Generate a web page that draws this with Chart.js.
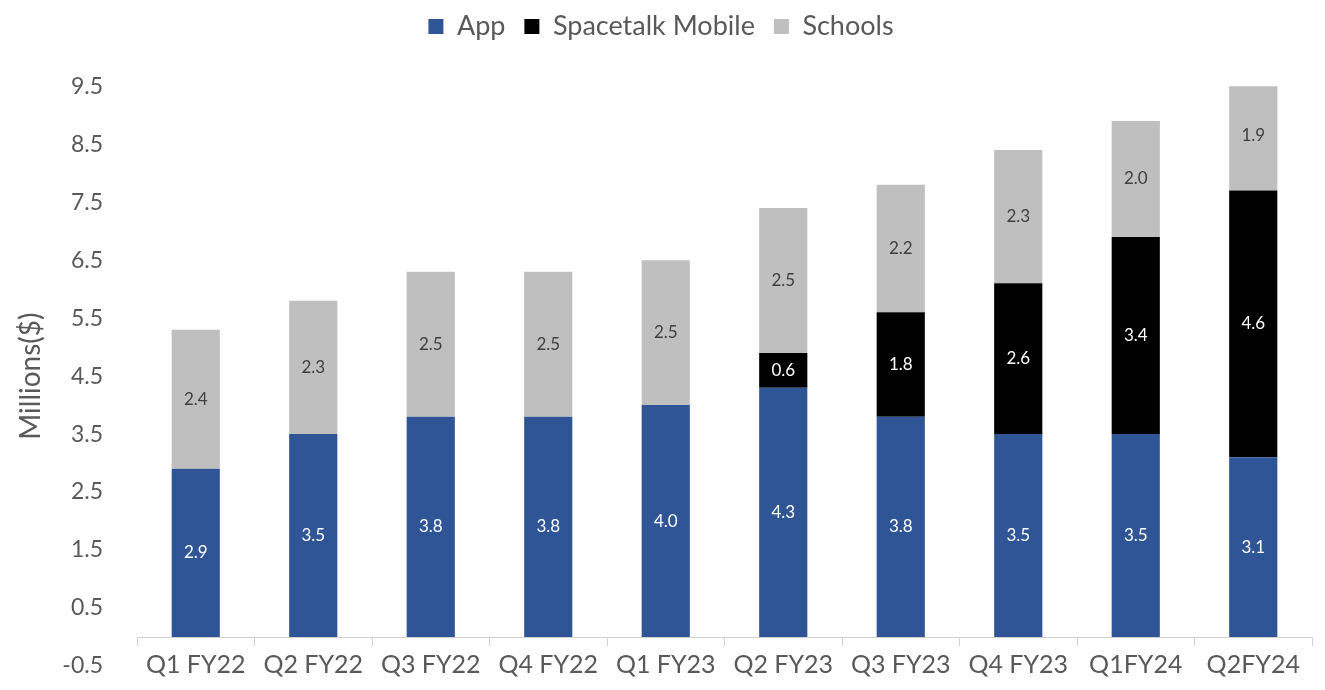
<!DOCTYPE html>
<html>
<head>
<meta charset="utf-8">
<script src="https://cdn.jsdelivr.net/npm/chart.js@4.4.1/dist/chart.umd.min.js"></script>
<style>
    html, body { margin: 0; padding: 0; background: #ffffff; }
    #wrap { width: 1325px; height: 690px; }
</style>
</head>
<body>
<div id="wrap"><canvas id="barChart" width="1325" height="690"></canvas></div>
<script>
let quarters = ['Q1 FY22', 'Q2 FY22', 'Q3 FY22', 'Q4 FY22', 'Q1 FY23', 'Q2 FY23', 'Q3 FY23', 'Q4 FY23', 'Q1FY24', 'Q2FY24'];
let appValues = [2.9, 3.5, 3.8, 3.8, 4.0, 4.3, 3.8, 3.5, 3.5, 3.1];
let mobileValues = [0, 0, 0, 0, 0, 0.6, 1.8, 2.6, 3.4, 4.6];
let schoolValues = [2.4, 2.3, 2.5, 2.5, 2.5, 2.5, 2.2, 2.3, 2.0, 1.9];
let yTicks = [-0.5, 0.5, 1.5, 2.5, 3.5, 4.5, 5.5, 6.5, 7.5, 8.5, 9.5];

const FONT = 'Lato, "Open Sans", sans-serif';
const TEXT_GREY = '#595959';
const AXIS_GREY = '#d0d0d0';

// value labels in the middle of every stacked segment
const segmentLabels = {
    id: 'segmentLabels',
    afterDatasetsDraw(chart) {
        const ctx = chart.ctx;
        ctx.save();
        ctx.font = '17px ' + FONT;
        ctx.textAlign = 'center';
        ctx.textBaseline = 'middle';
        chart.data.datasets.forEach((ds, i) => {
            const meta = chart.getDatasetMeta(i);
            meta.data.forEach((bar, j) => {
                const v = ds.data[j];
                if (!v) {
                    return;
                }
                const p = bar.getProps(['x', 'y', 'base'], true);
                ctx.fillStyle = ds.labelColor;
                ctx.fillText(v.toFixed(1), p.x, (p.y + p.base) / 2);
            });
        });
        ctx.restore();
    }
};

new Chart(document.getElementById('barChart'), {
    type: 'bar',
    data: {
        labels: quarters,
        datasets: [
            {
                label: 'App',
                data: appValues,
                backgroundColor: '#2f5597',
                labelColor: '#ffffff'
            },
            {
                label: 'Spacetalk Mobile',
                data: mobileValues,
                backgroundColor: '#000000',
                labelColor: '#ffffff'
            },
            {
                label: 'Schools',
                data: schoolValues,
                backgroundColor: '#bfbfbf',
                labelColor: '#404040'
            }
        ]
    },
    options: {
        responsive: false,
        animation: false,
        layout: {
            // the x axis sits at zero inside the plot, so keep room below for the -0.5 row
            padding: { left: 10, right: 13, top: -6, bottom: 24 }
        },
        datasets: {
            bar: {
                categoryPercentage: 1,
                barPercentage: 0.41
            }
        },
        plugins: {
            legend: {
                position: 'top',
                labels: {
                    boxWidth: 15,
                    boxHeight: 15,
                    padding: 19,
                    color: TEXT_GREY,
                    font: { family: FONT, size: 27 }
                }
            },
            // empty title used as a spacer between the legend and the plot
            title: {
                display: true,
                text: '',
                weight: 500,
                font: { size: 1 },
                padding: { top: 0, bottom: 35 }
            },
            tooltip: { enabled: false }
        },
        scales: {
            x: {
                stacked: true,
                position: { y: 0 },
                grid: {
                    display: true,
                    drawOnChartArea: false,
                    drawTicks: true,
                    tickLength: 8,
                    offset: true,
                    color: AXIS_GREY
                },
                border: { display: true, color: AXIS_GREY },
                ticks: {
                    color: TEXT_GREY,
                    padding: 5,
                    maxRotation: 0,
                    autoSkip: false,
                    font: { family: FONT, size: 25 }
                }
            },
            y: {
                stacked: true,
                min: -0.5,
                max: 9.5,
                afterBuildTicks(scale) {
                    scale.ticks = yTicks.map(v => ({ value: v }));
                },
                afterFit(scale) {
                    scale.width = 127;
                    // the big tick padding would otherwise shrink the plot vertically
                    scale.paddingTop = 0;
                    scale.paddingBottom = 0;
                },
                grid: { display: false, drawTicks: false },
                border: { display: false },
                title: {
                    display: true,
                    text: 'Millions($)',
                    color: TEXT_GREY,
                    padding: { top: 4, bottom: 0 },
                    font: { family: FONT, size: 28 }
                },
                ticks: {
                    color: TEXT_GREY,
                    padding: 34,
                    font: { family: FONT, size: 23 },
                    callback: v => v.toFixed(1)
                }
            }
        }
    },
    plugins: [segmentLabels]
});
</script>
</body>
</html>
